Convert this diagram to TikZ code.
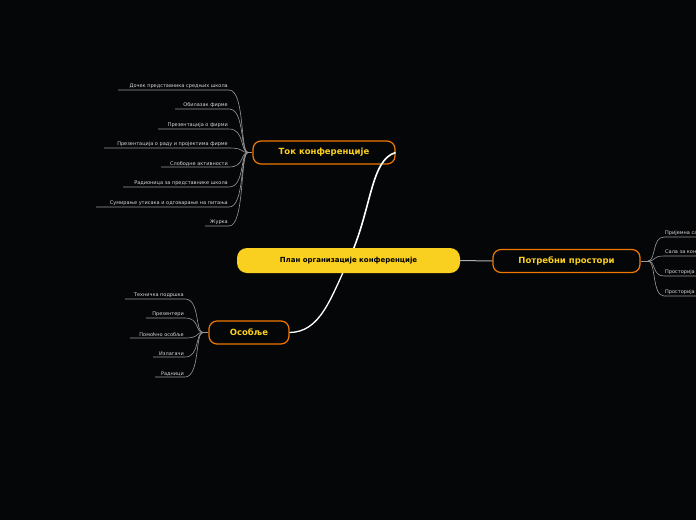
\documentclass[tikz,border=0pt]{standalone}
\usepackage{fontspec}
\setmainfont{DejaVu Sans}
\definecolor{bg}{HTML}{050608}
\definecolor{gold}{HTML}{F9D01F}
\definecolor{org}{HTML}{F07800}
\begin{document}
\begin{tikzpicture}[x=1pt,y=-1pt,
  topic/.style={draw=org,line width=1.2pt,fill=bg,rounded corners=8pt,text=gold,font=\bfseries\fontsize{8.5}{10}\selectfont,inner sep=0pt,minimum height=23pt},
  center/.style={fill=gold,rounded corners=10pt,minimum width=223pt,minimum height=25pt,inner sep=0pt,font=\bfseries\fontsize{7}{8}\selectfont},
  leaf/.style={text=white!85!black,font=\fontsize{5}{6}\selectfont,inner sep=1pt,anchor=south east},
  leafr/.style={text=white!85!black,font=\fontsize{5}{6}\selectfont,inner sep=1pt,anchor=south west},
  lk/.style={draw=white!60!black,line width=0.6pt}]
\fill[bg] (0,0) rectangle (696,520);
\useasboundingbox (0,0) rectangle (696,520);
\coordinate (c) at (348.5,260.5);
\node[topic,minimum width=142pt] (tok) at (324,152.5) {Ток конференције};
\node[topic,minimum width=147pt] (pot) at (566.5,261) {Потребни простори};
\node[topic,minimum width=80pt] (os) at (249,332.5) {Особље};
\draw[white,line width=1.6pt] (c) .. controls (372,210) and (370,160) .. (tok.east);
\draw[white,line width=1.3pt] (c) .. controls (330,300) and (320,332) .. (os.east);
\node[center] (cn) at (c) {План организације конференције};
\draw[white!70!black,line width=1pt] (cn.east) -- (pot.west);
% Ток leaves
\coordinate (th) at (248,152.5);
\draw[lk] (tok.west) -- (th);
\foreach \y/\xl/\t [count=\i] in {90/118/Дочек представника средњих школа,109/175/Обилазак фирме,129/158/Презентација о фирми,148/104/Презентација о раду и пројектима фирме,167/161/Слободне активности,187/123/Радионица за представнике школа,207/96/Сумирање утисака и одговарање на питања,226/205/Журка}{
  \node[leaf] (t\i) at (229,\y) {\t};
  \coordinate (te\i) at (\xl,\y);
  \draw[lk] (th) .. controls (240,152.5) and (245,\y) .. (229,\y) -- (te\i);
}
% Особље leaves
\coordinate (oh) at (203,332.5);
\draw[lk] (os.west) -- (oh);
\foreach \y/\xl/\t [count=\i] in {299/125/Техничка подршка,318/146/Презентери,338/130/Помоћно особље,357/153/Излагачи,377/155/Радници}{
  \node[leaf] (o\i) at (185,\y) {\t};
  \coordinate (oe\i) at (\xl,\y);
  \draw[lk] (oh) .. controls (195,332.5) and (200,\y) .. (185,\y) -- (oe\i);
}
% Потребни leaves
\coordinate (ph) at (648,261);
\draw[lk] (pot.east) -- (ph);
\foreach \y/\t [count=\i] in {237/Пријемна сала,256/Сала за конференцију,276/Просторија за излагаче,296/Просторија за раднике}{
  \node[leafr] (p\i) at (664,\y) {\t};
  \coordinate (pe\i) at (720,\y);
  \draw[lk] (ph) .. controls (656,261) and (652,\y) .. (664,\y) -- (pe\i);
}
\end{tikzpicture}
\end{document}
